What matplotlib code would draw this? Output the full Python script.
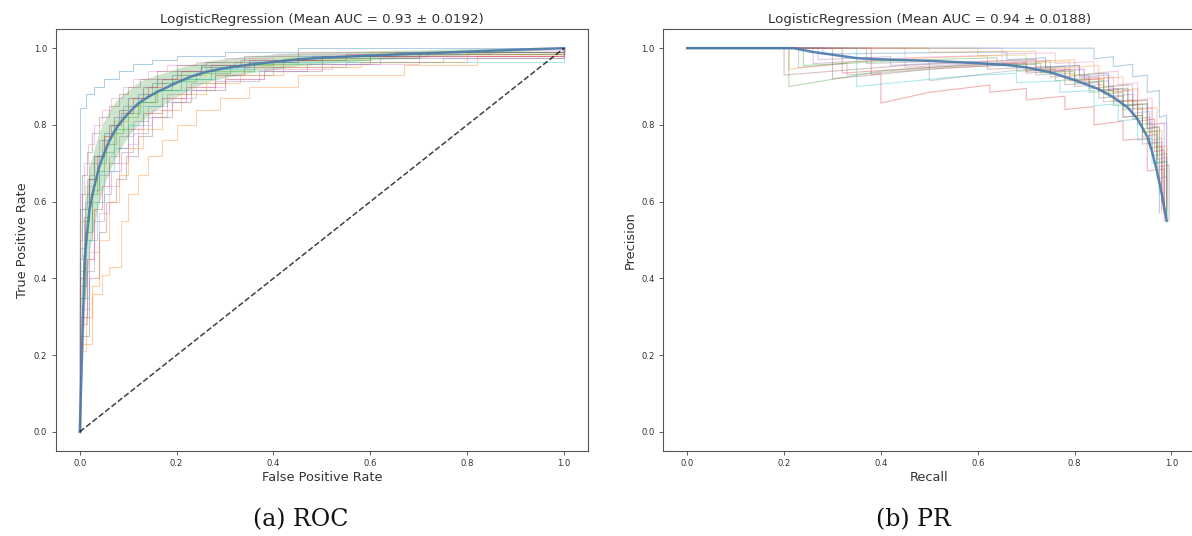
import numpy as np
import matplotlib
matplotlib.use("Agg")
from matplotlib import pyplot as plt

# ROC: mean curve and std over folds on a shared fpr grid
roc_grid = [0, 0.01, 0.02, 0.03, 0.04, 0.05, 0.06, 0.07, 0.08, 0.09, 0.10, 0.12, 0.14,
            0.16, 0.18, 0.20, 0.23, 0.26, 0.30, 0.35, 0.40, 0.45, 0.50, 0.60, 0.70,
            0.80, 0.90, 1.0]
roc_mean = [0, 0.45, 0.58, 0.64, 0.69, 0.725, 0.755, 0.78, 0.80, 0.815, 0.83, 0.855,
            0.872, 0.886, 0.898, 0.91, 0.926, 0.938, 0.948, 0.957, 0.964, 0.971, 0.975,
            0.981, 0.986, 0.991, 0.996, 1.0]
roc_std = [0, 0.13, 0.11, 0.10, 0.09, 0.085, 0.08, 0.075, 0.07, 0.065, 0.06, 0.055, 0.05,
           0.045, 0.04, 0.037, 0.032, 0.028, 0.025, 0.022, 0.02, 0.017, 0.015, 0.012,
           0.01, 0.008, 0.005, 0]

# per-fold ROC corners (fpr, tpr)
roc_folds = [
    ([0, 0, 0.012, 0.03, 0.05, 0.08, 0.11, 0.15, 0.2, 0.3, 0.45, 1],
     [0, 0.845, 0.88, 0.9, 0.92, 0.94, 0.96, 0.97, 0.98, 0.99, 1.0, 1.0]),
    ([0, 0, 0.012, 0.025, 0.045, 0.06, 0.085, 0.1, 0.12, 0.14, 0.17, 0.2, 0.24, 0.29, 0.35, 0.45, 0.67, 0.82, 1],
     [0, 0.21, 0.3, 0.36, 0.41, 0.43, 0.55, 0.62, 0.67, 0.72, 0.76, 0.8, 0.84, 0.87, 0.9, 0.93, 0.955, 0.98, 1]),
    ([0, 0, 0.01, 0.02, 0.035, 0.05, 0.07, 0.09, 0.12, 0.16, 0.21, 0.27, 0.36, 0.5, 0.7, 1],
     [0, 0.42, 0.55, 0.62, 0.68, 0.73, 0.78, 0.82, 0.86, 0.89, 0.92, 0.94, 0.96, 0.975, 0.99, 1]),
    ([0, 0, 0.015, 0.03, 0.045, 0.06, 0.08, 0.1, 0.13, 0.17, 0.22, 0.28, 0.34, 0.42, 0.55, 1],
     [0, 0.3, 0.45, 0.58, 0.64, 0.7, 0.74, 0.79, 0.83, 0.87, 0.9, 0.93, 0.95, 0.97, 0.985, 1]),
    ([0, 0, 0.005, 0.02, 0.04, 0.06, 0.08, 0.1, 0.13, 0.16, 0.2, 0.25, 0.33, 0.48, 0.72, 1],
     [0, 0.5, 0.62, 0.7, 0.76, 0.8, 0.84, 0.87, 0.9, 0.92, 0.94, 0.955, 0.97, 0.98, 0.99, 1]),
    ([0, 0, 0.02, 0.04, 0.055, 0.075, 0.095, 0.12, 0.15, 0.19, 0.23, 0.3, 0.38, 0.5, 0.6, 1],
     [0, 0.25, 0.4, 0.52, 0.6, 0.66, 0.72, 0.77, 0.82, 0.86, 0.89, 0.92, 0.94, 0.96, 0.98, 1]),
    ([0, 0, 0.008, 0.018, 0.03, 0.045, 0.065, 0.09, 0.11, 0.14, 0.18, 0.24, 0.3, 0.4, 0.85, 1],
     [0, 0.62, 0.7, 0.75, 0.8, 0.84, 0.87, 0.9, 0.92, 0.94, 0.955, 0.965, 0.975, 0.985, 0.995, 1]),
    ([0, 0, 0.012, 0.025, 0.04, 0.06, 0.08, 0.11, 0.14, 0.18, 0.23, 0.3, 0.4, 0.55, 0.75, 1],
     [0, 0.38, 0.5, 0.6, 0.67, 0.72, 0.77, 0.81, 0.85, 0.88, 0.91, 0.93, 0.95, 0.965, 0.975, 1]),
    ([0, 0, 0.01, 0.03, 0.05, 0.07, 0.1, 0.13, 0.16, 0.2, 0.26, 0.33, 0.42, 0.6, 1],
     [0, 0.55, 0.64, 0.72, 0.77, 0.81, 0.85, 0.88, 0.91, 0.93, 0.95, 0.96, 0.975, 0.99, 1]),
    ([0, 0, 0.02, 0.035, 0.05, 0.07, 0.1, 0.13, 0.17, 0.22, 0.28, 0.36, 1],
     [0, 0.35, 0.5, 0.6, 0.68, 0.74, 0.8, 0.85, 0.89, 0.92, 0.945, 0.965, 1]),
    ([0, 0, 0.005, 0.015, 0.03, 0.05, 0.07, 0.09, 0.12, 0.15, 0.19, 0.25, 0.35, 0.45, 0.65, 1],
     [0, 0.45, 0.58, 0.66, 0.72, 0.78, 0.82, 0.85, 0.88, 0.91, 0.93, 0.95, 0.965, 0.98, 0.99, 1]),
    ([0, 0, 0.025, 0.04, 0.06, 0.08, 0.1, 0.13, 0.17, 0.21, 0.26, 0.33, 0.42, 0.58, 0.8, 1],
     [0, 0.23, 0.38, 0.5, 0.6, 0.67, 0.74, 0.79, 0.84, 0.88, 0.91, 0.93, 0.95, 0.965, 0.985, 1]),
    ([0, 0, 0.01, 0.025, 0.04, 0.055, 0.075, 0.1, 0.125, 0.155, 0.19, 0.24, 0.31, 0.4, 0.6, 1],
     [0, 0.35, 0.52, 0.63, 0.7, 0.75, 0.79, 0.83, 0.86, 0.89, 0.915, 0.935, 0.955, 0.97, 0.985, 1]),
    ([0, 0, 0.008, 0.02, 0.035, 0.05, 0.065, 0.085, 0.11, 0.14, 0.17, 0.21, 0.27, 0.35, 0.5, 1],
     [0, 0.4, 0.56, 0.66, 0.72, 0.77, 0.8, 0.83, 0.87, 0.9, 0.92, 0.94, 0.955, 0.97, 0.98, 1]),
    ([0, 0, 0.015, 0.03, 0.05, 0.065, 0.085, 0.11, 0.14, 0.18, 0.22, 0.28, 0.37, 0.47, 0.62, 1],
     [0, 0.28, 0.42, 0.55, 0.62, 0.68, 0.73, 0.78, 0.82, 0.86, 0.89, 0.915, 0.94, 0.96, 0.975, 1]),
    ([0, 0, 0.005, 0.015, 0.025, 0.04, 0.06, 0.08, 0.1, 0.125, 0.16, 0.2, 0.26, 0.34, 0.45, 1],
     [0, 0.58, 0.67, 0.73, 0.78, 0.82, 0.85, 0.88, 0.9, 0.92, 0.94, 0.955, 0.965, 0.98, 0.99, 1]),
    ([0, 0, 0.02, 0.04, 0.06, 0.08, 0.1, 0.12, 0.15, 0.19, 0.24, 0.3, 0.38, 0.52, 0.7, 1],
     [0, 0.32, 0.47, 0.57, 0.64, 0.7, 0.75, 0.8, 0.84, 0.87, 0.9, 0.92, 0.945, 0.96, 0.98, 1]),
    ([0, 0, 0.01, 0.02, 0.03, 0.045, 0.06, 0.08, 0.1, 0.13, 0.16, 0.2, 0.25, 0.32, 0.45, 0.7, 1],
     [0, 0.48, 0.6, 0.67, 0.72, 0.76, 0.8, 0.84, 0.87, 0.9, 0.92, 0.94, 0.955, 0.965, 0.975, 0.99, 1]),
]

# PR: mean curve
pr_recall = [0, 0.22, 0.26, 0.3, 0.35, 0.4, 0.5, 0.6, 0.66, 0.7, 0.75, 0.8, 0.85, 0.88,
             0.91, 0.93, 0.95, 0.96, 0.97, 0.98, 0.99]
pr_prec = [1, 1, 0.99, 0.983, 0.974, 0.971, 0.967, 0.961, 0.956, 0.95, 0.937, 0.917,
           0.893, 0.872, 0.845, 0.815, 0.77, 0.73, 0.68, 0.62, 0.55]

# per-fold PR points (recall, precision)
pr_folds = [
    ([0, 0.84, 0.84, 0.88, 0.88, 0.92, 0.92, 0.95, 0.95, 0.975, 0.975, 0.99, 0.99],
     [1, 1, 0.972, 0.978, 0.952, 0.958, 0.925, 0.93, 0.885, 0.89, 0.82, 0.825, 0.6]),
    ([0, 0.21, 0.21, 0.35, 0.5, 0.62, 0.62, 0.72, 0.72, 0.8, 0.8, 0.86, 0.86, 0.91, 0.91, 0.95, 0.95, 0.98, 0.98],
     [1, 1, 0.945, 0.965, 0.975, 0.98, 0.965, 0.97, 0.945, 0.95, 0.915, 0.92, 0.885, 0.89, 0.85, 0.855, 0.78, 0.785, 0.57]),
    ([0, 0.21, 0.21, 0.4, 0.6, 0.68, 0.68, 0.76, 0.76, 0.83, 0.83, 0.88, 0.88, 0.93, 0.93, 0.96, 0.96, 0.99, 0.99],
     [1, 1, 0.9, 0.94, 0.958, 0.962, 0.94, 0.945, 0.915, 0.92, 0.885, 0.89, 0.85, 0.855, 0.8, 0.805, 0.72, 0.725, 0.56]),
    ([0, 0.38, 0.38, 0.4, 0.4, 0.5, 0.625, 0.625, 0.7, 0.7, 0.78, 0.78, 0.84, 0.84, 0.9, 0.9, 0.95, 0.95, 0.985, 0.985],
     [1, 1, 0.93, 0.935, 0.857, 0.885, 0.904, 0.885, 0.895, 0.865, 0.875, 0.84, 0.848, 0.8, 0.81, 0.76, 0.765, 0.68, 0.685, 0.55]),
    ([0, 0.26, 0.26, 0.45, 0.45, 0.6, 0.75, 0.75, 0.82, 0.82, 0.87, 0.87, 0.92, 0.92, 0.955, 0.955, 0.98, 0.98],
     [1, 1, 0.96, 0.972, 0.95, 0.96, 0.968, 0.94, 0.945, 0.91, 0.915, 0.875, 0.88, 0.83, 0.835, 0.75, 0.755, 0.58]),
    ([0, 0.3, 0.3, 0.5, 0.7, 0.7, 0.78, 0.78, 0.85, 0.85, 0.9, 0.9, 0.94, 0.94, 0.97, 0.97, 0.995, 0.995],
     [1, 1, 0.92, 0.945, 0.96, 0.935, 0.94, 0.905, 0.91, 0.87, 0.875, 0.82, 0.825, 0.77, 0.775, 0.69, 0.695, 0.55]),
    ([0, 0.45, 0.45, 0.65, 0.65, 0.74, 0.74, 0.82, 0.82, 0.88, 0.88, 0.92, 0.92, 0.96, 0.96, 0.98, 0.98],
     [1, 1, 0.975, 0.982, 0.96, 0.965, 0.94, 0.945, 0.92, 0.925, 0.885, 0.89, 0.84, 0.845, 0.76, 0.765, 0.6]),
    ([0, 0.23, 0.23, 0.33, 0.33, 0.55, 0.72, 0.72, 0.8, 0.8, 0.86, 0.86, 0.9, 0.9, 0.94, 0.94, 0.97, 0.97, 0.99, 0.99],
     [1, 1, 0.95, 0.96, 0.93, 0.95, 0.958, 0.93, 0.935, 0.9, 0.905, 0.86, 0.865, 0.82, 0.825, 0.75, 0.755, 0.66, 0.665, 0.56]),
    ([0, 0.6, 0.6, 0.7, 0.7, 0.79, 0.79, 0.86, 0.86, 0.91, 0.91, 0.95, 0.95, 0.975, 0.975],
     [1, 1, 0.98, 0.982, 0.96, 0.965, 0.93, 0.935, 0.9, 0.905, 0.86, 0.865, 0.79, 0.795, 0.62]),
    ([0, 0.35, 0.35, 0.55, 0.68, 0.68, 0.77, 0.77, 0.84, 0.84, 0.89, 0.89, 0.93, 0.93, 0.96, 0.96, 0.99, 0.99],
     [1, 1, 0.9, 0.925, 0.935, 0.91, 0.915, 0.885, 0.89, 0.85, 0.855, 0.81, 0.815, 0.76, 0.765, 0.7, 0.705, 0.55]),
    ([0, 0.28, 0.28, 0.5, 0.66, 0.66, 0.74, 0.74, 0.81, 0.81, 0.87, 0.87, 0.91, 0.91, 0.95, 0.95, 0.975, 0.975],
     [1, 1, 0.985, 0.988, 0.99, 0.97, 0.975, 0.95, 0.955, 0.93, 0.935, 0.89, 0.895, 0.85, 0.855, 0.79, 0.795, 0.57]),
    ([0, 0.5, 0.5, 0.72, 0.72, 0.8, 0.8, 0.85, 0.85, 0.9, 0.9, 0.93, 0.93, 0.97, 0.97, 0.99, 0.99],
     [1, 1, 0.99, 0.992, 0.965, 0.97, 0.95, 0.955, 0.92, 0.925, 0.89, 0.895, 0.84, 0.845, 0.74, 0.745, 0.58]),
    ([0, 0.24, 0.24, 0.4, 0.55, 0.64, 0.64, 0.73, 0.73, 0.8, 0.8, 0.86, 0.86, 0.9, 0.9, 0.94, 0.94, 0.97, 0.97, 0.99, 0.99],
     [1, 1, 0.955, 0.965, 0.972, 0.975, 0.955, 0.96, 0.935, 0.94, 0.91, 0.915, 0.88, 0.885, 0.84, 0.845, 0.78, 0.785, 0.7, 0.705, 0.56]),
    ([0, 0.32, 0.32, 0.5, 0.7, 0.7, 0.79, 0.79, 0.85, 0.85, 0.89, 0.89, 0.93, 0.93, 0.965, 0.965, 0.985, 0.985],
     [1, 1, 0.935, 0.95, 0.962, 0.94, 0.945, 0.915, 0.92, 0.89, 0.895, 0.86, 0.865, 0.81, 0.815, 0.73, 0.735, 0.57]),
    ([0, 0.27, 0.27, 0.42, 0.42, 0.58, 0.72, 0.72, 0.81, 0.81, 0.87, 0.87, 0.92, 0.92, 0.95, 0.95, 0.985, 0.985],
     [1, 1, 0.97, 0.978, 0.955, 0.965, 0.97, 0.95, 0.955, 0.925, 0.93, 0.9, 0.905, 0.86, 0.865, 0.8, 0.805, 0.58]),
    ([0, 0.2, 0.2, 0.45, 0.62, 0.62, 0.75, 0.75, 0.83, 0.83, 0.88, 0.88, 0.92, 0.92, 0.955, 0.955, 0.98, 0.98],
     [1, 1, 0.93, 0.955, 0.965, 0.945, 0.952, 0.925, 0.93, 0.895, 0.9, 0.86, 0.865, 0.815, 0.82, 0.74, 0.745, 0.6]),
    ([0, 0.65, 0.65, 0.76, 0.76, 0.84, 0.84, 0.89, 0.89, 0.93, 0.93, 0.96, 0.96, 0.99, 0.99],
     [1, 1, 0.985, 0.988, 0.96, 0.965, 0.935, 0.94, 0.905, 0.91, 0.865, 0.87, 0.8, 0.805, 0.59]),
    ([0, 0.37, 0.37, 0.5, 0.5, 0.66, 0.78, 0.78, 0.85, 0.85, 0.9, 0.9, 0.94, 0.94, 0.97, 0.97, 0.99, 0.99],
     [1, 1, 0.96, 0.965, 0.915, 0.94, 0.952, 0.92, 0.925, 0.89, 0.895, 0.85, 0.855, 0.79, 0.795, 0.71, 0.715, 0.55]),
]

roc_title = "LogisticRegression (Mean AUC = 0.93 \u00b1 0.0192)"
pr_title = "LogisticRegression (Mean AUC = 0.94 \u00b1 0.0188)"

mean_color = "#4a7bab"
text_color = "#333333"

plt.rcParams["font.family"] = ["DejaVu Sans"]
fig = plt.figure(figsize=(11.92, 5.36), dpi=100)
ax1 = fig.add_axes([0.0466, 0.1586, 0.4469, 0.7873])
ax2 = fig.add_axes([0.5562, 0.1586, 0.4469, 0.7873])


def style_axes(ax, title, xlabel, ylabel):
    ax.set_xlim(-0.05, 1.05)
    ax.set_ylim(-0.05, 1.05)
    ax.set_xticks([0, 0.2, 0.4, 0.6, 0.8, 1.0])
    ax.set_yticks([0, 0.2, 0.4, 0.6, 0.8, 1.0])
    ax.tick_params(labelsize=6.1, length=2.6, width=0.6, colors="#444444", labelcolor=text_color)
    for s in ax.spines.values():
        s.set_color("#555555")
        s.set_linewidth(0.8)
    ax.set_title(title, fontsize=9.6, color=text_color, pad=4.5)
    ax.set_xlabel(xlabel, fontsize=9.3, color=text_color, labelpad=2)
    ax.set_ylabel(ylabel, fontsize=9.3, color=text_color, labelpad=3)


# ROC panel
for i, (f, t) in enumerate(roc_folds):
    ax1.step(f, t, where="post", color="C%d" % (i % 10), alpha=0.35, lw=0.8)
grid = np.array(roc_grid)
mean = np.array(roc_mean)
std = np.array(roc_std)
upper = np.minimum(mean + std, 1)
lower = np.maximum(mean - std, 0)
ax1.fill_between(grid, lower, upper, color="green", alpha=0.2, lw=0)
ax1.plot(grid, mean, color=mean_color, lw=1.8, alpha=0.9)
ax1.plot([0, 1], [0, 1], "k--", lw=1.1, alpha=0.75)
style_axes(ax1, roc_title, "False Positive Rate", "True Positive Rate")

# PR panel
for i, (r, p) in enumerate(pr_folds):
    ax2.plot(r, p, color="C%d" % (i % 10), alpha=0.35, lw=0.8)
ax2.plot(pr_recall, pr_prec, color=mean_color, lw=1.8, alpha=0.9)
style_axes(ax2, pr_title, "Recall", "Precision")

fig.text(301 / 1192, 1 - 520 / 536, "(a) ROC", ha="center", va="center",
         family="DejaVu Serif", fontsize=17, color="#111111")
fig.text(913 / 1192, 1 - 520 / 536, "(b) PR", ha="center", va="center",
         family="DejaVu Serif", fontsize=17, color="#111111")

fig.savefig("out.png", dpi=100)
